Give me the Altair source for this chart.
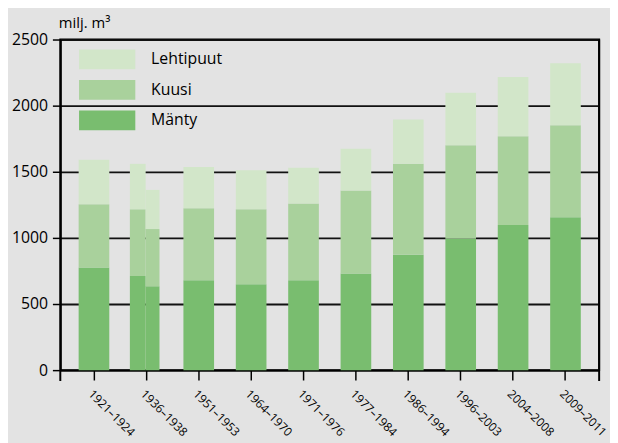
import altair as alt
import pandas as pd

periods = ["1921–1924", "1936–1938", "1936–1938", "1951–1953", "1964–1970",
           "1971–1976", "1977–1984", "1986–1994", "1996–2003", "2004–2008", "2009–2011"]
parts = ["koko", "vasen", "oikea", "koko", "koko", "koko", "koko", "koko", "koko", "koko", "koko"]
manty = [776, 711, 634, 679, 649, 679, 731, 873, 993, 1097, 1157]
kuusi = [478, 505, 433, 545, 567, 582, 627, 687, 708, 672, 694]
lehtipuut = [336, 344, 296, 313, 296, 269, 316, 336, 396, 447, 470]

categories = ["1921–1924", "1936–1938", "1951–1953", "1964–1970", "1971–1976",
              "1977–1984", "1986–1994", "1996–2003", "2004–2008", "2009–2011"]
species = ["Lehtipuut", "Kuusi", "Mänty"]
colors = ["#d2e6c9", "#a9d19c", "#79bd6f"]

rows = []
for i, p in enumerate(periods):
    for name, vals in (("Mänty", manty), ("Kuusi", kuusi), ("Lehtipuut", lehtipuut)):
        rows.append({"kausi": p, "osa": parts[i], "laji": name, "arvo": vals[i]})
df = pd.DataFrame(rows)

FONT = "Open Sans"

x = alt.X("kausi:N", sort=categories, scale=alt.Scale(domain=categories, paddingInner=0.415, paddingOuter=0.35),
          axis=alt.Axis(title=None, labelAngle=45, labelAlign="left", labelBaseline="top",
                        labelFontSize=12, labelPadding=8, tickSize=10, domainWidth=2,
                        domainColor="black", tickColor="black", tickWidth=1.5, labelColor="black",
                        grid=False))
y = alt.Y("arvo:Q", stack="zero", scale=alt.Scale(domain=[0, 2500], nice=False),
          axis=alt.Axis(title="milj. m³", values=[0, 500, 1000, 1500, 2000, 2500], format="d",
                        titleAngle=0, titleAlign="left", titleBaseline="alphabetic", titleX=-2, titleY=-12,
                        titleFontSize=15, titleFontWeight="normal", titleColor="black",
                        labelFontSize=16, labelColor="black", labelPadding=5, tickSize=8,
                        tickColor="black", tickWidth=1.5, domainColor="black", domainWidth=2,
                        grid=True, gridColor="#111111", gridWidth=1.8))
color = alt.Color("laji:N", scale=alt.Scale(domain=species, range=colors),
                  legend=alt.Legend(title=None, orient="none", legendX=37.5, legendY=10,
                                    symbolType="M-2.85,-1H2.85V1H-2.85Z", symbolSize=400,
                                    symbolStrokeWidth=0, symbolOpacity=1, labelFontSize=16,
                                    labelColor="black", labelOffset=34.5, rowPadding=11,
                                    padding=0, direction="vertical"))
order = alt.Order("jarj:Q")

base = alt.Chart(df).transform_calculate(
    jarj="indexof(['Mänty','Kuusi','Lehtipuut'], datum.laji)"
)

full = base.transform_filter("datum.osa == 'koko'").mark_bar().encode(x=x, y=y, color=color, order=order)
left = base.transform_filter("datum.osa == 'vasen'").mark_bar(width=16, xOffset=-8.7).encode(
    x=x, y=y, color=color, order=order)
right = base.transform_filter("datum.osa == 'oikea'").mark_bar(width=14, xOffset=6.3).encode(
    x=x, y=y, color=color, order=order)

ends = pd.DataFrame({"k": [0]})
tick_l = alt.Chart(ends).mark_rule(color="black", strokeWidth=2).encode(
    x=alt.value(0), y=alt.value(335), y2=alt.value(346))
tick_r = alt.Chart(ends).mark_rule(color="black", strokeWidth=2).encode(
    x=alt.value(546), y=alt.value(0), y2=alt.value(346))

chart = alt.layer(full, left, right, tick_l, tick_r).properties(
    width=546, height=335, autosize="none",
    padding={"left": 53, "top": 29, "right": 11, "bottom": 80},
    background="#e3e3e3"
).configure(font=FONT).configure_view(stroke="black", strokeWidth=2)

chart.save("out.html", embed_options={"renderer": "svg", "actions": False})
